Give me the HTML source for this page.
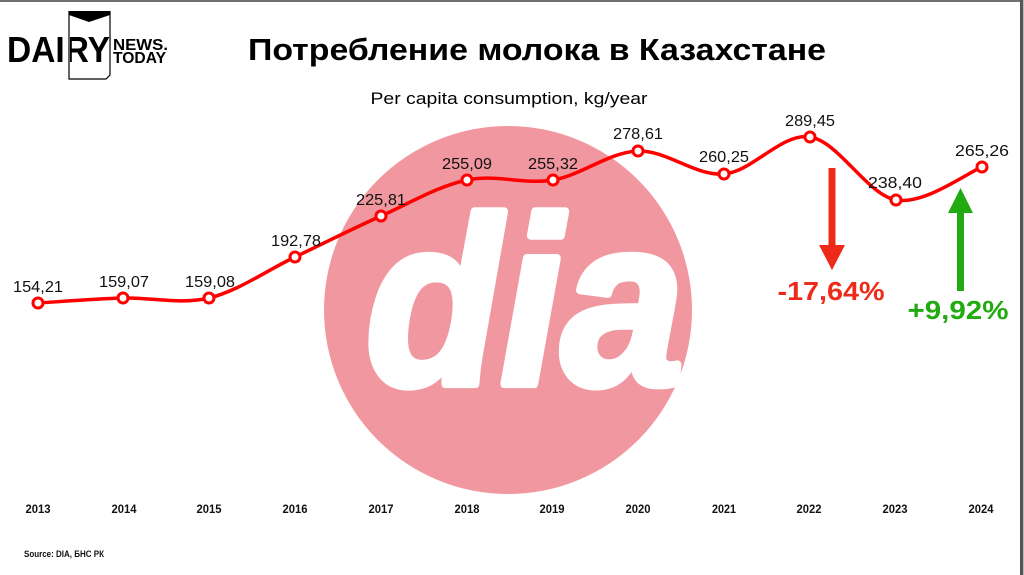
<!DOCTYPE html>
<html>
<head>
<meta charset="utf-8">
<style>
  html, body { margin: 0; padding: 0; background: #fff; }
  body { width: 1024px; height: 575px; overflow: hidden; }
  svg { display: block; }
  text { font-family: "Liberation Sans", "DejaVu Sans", "Noto Sans CJK SC", sans-serif; }
</style>
</head>
<body>
<svg width="1024" height="575" viewBox="0 0 1024 575" xmlns="http://www.w3.org/2000/svg">
  <rect x="0" y="0" width="1024" height="575" fill="#ffffff"/>
  <!-- borders -->
  <rect x="0" y="0" width="1024" height="2" fill="#707070"/>
  <rect x="1020" y="0" width="3" height="575" fill="#555555"/>
  <rect x="1023" y="0" width="1" height="575" fill="#bbbbbb"/>

  <!-- pink watermark circle -->
  <circle cx="508" cy="310" r="184" fill="#f1979f"/>
  <g transform="translate(366,384) scale(1,0.93)">
    <text x="0" y="0" font-size="256" font-weight="bold" font-style="italic" fill="#ffffff" stroke="#ffffff" stroke-width="9" stroke-linejoin="round" textLength="318" lengthAdjust="spacingAndGlyphs">dia</text>
  </g>

  <!-- logo -->
  <text x="7" y="62" font-size="36" font-weight="bold" fill="#000" textLength="103" lengthAdjust="spacingAndGlyphs">DAIRY</text>
  <rect x="67" y="15" width="3" height="64" fill="#ffffff"/>
  <polyline points="69,11 69,79 106,79 110,75 110,11" fill="none" stroke="#000" stroke-width="1.2"/>
  <polygon points="69,11 110,11 110,15 89,22 69,15" fill="#000"/>
  <text x="113" y="50" font-size="16" font-weight="bold" fill="#000" textLength="55" lengthAdjust="spacingAndGlyphs">NEWS.</text>
  <text x="113" y="63" font-size="16" font-weight="bold" fill="#000" textLength="53" lengthAdjust="spacingAndGlyphs">TODAY</text>

  <!-- title -->
  <text x="537" y="60" font-size="31" font-weight="bold" fill="#000" text-anchor="middle" textLength="578" lengthAdjust="spacingAndGlyphs">Потребление молока в Казахстане</text>
  <text x="509" y="104" font-size="17" fill="#000" text-anchor="middle" textLength="277" lengthAdjust="spacingAndGlyphs">Per capita consumption, kg/year</text>

  <!-- line -->
  <path d="M38,303 C52.2,302.2 94.5,298.8 123,298 C151.5,297.2 180.3,304.8 209,298 C237.7,291.2 266.3,270.7 295,257 C323.7,243.3 352.3,228.8 381,216 C409.7,203.2 438.3,186 467,180 C495.7,174 524.5,184.8 553,180 C581.5,175.2 609.5,152 638,151 C666.5,150 695.3,176.3 724,174 C752.7,171.7 781.3,132.7 810,137 C838.7,141.3 867.3,195 896,200 C924.7,205 967.7,172.5 982,167"
        fill="none" stroke="#ff0000" stroke-width="3.5" stroke-linejoin="round" stroke-linecap="round"/>

  <!-- markers -->
  <g fill="#ffffff" stroke="#ff0000" stroke-width="3">
    <circle cx="38" cy="303" r="5"/>
    <circle cx="123" cy="298" r="5"/>
    <circle cx="209" cy="298" r="5"/>
    <circle cx="295" cy="257" r="5"/>
    <circle cx="381" cy="216" r="5"/>
    <circle cx="467" cy="180" r="5"/>
    <circle cx="553" cy="180" r="5"/>
    <circle cx="638" cy="151" r="5"/>
    <circle cx="724" cy="174" r="5"/>
    <circle cx="810" cy="137" r="5"/>
    <circle cx="896" cy="200" r="5"/>
    <circle cx="982" cy="167" r="5"/>
  </g>

  <!-- data labels -->
  <g font-size="16" fill="#111" text-anchor="middle">
    <text x="38" y="292" textLength="50" lengthAdjust="spacingAndGlyphs">154,21</text>
    <text x="124" y="287" textLength="50" lengthAdjust="spacingAndGlyphs">159,07</text>
    <text x="210" y="287" textLength="50" lengthAdjust="spacingAndGlyphs">159,08</text>
    <text x="296" y="246" textLength="50" lengthAdjust="spacingAndGlyphs">192,78</text>
    <text x="381" y="205" textLength="50" lengthAdjust="spacingAndGlyphs">225,81</text>
    <text x="467" y="169" textLength="50" lengthAdjust="spacingAndGlyphs">255,09</text>
    <text x="553" y="169" textLength="50" lengthAdjust="spacingAndGlyphs">255,32</text>
    <text x="638" y="139" textLength="50" lengthAdjust="spacingAndGlyphs">278,61</text>
    <text x="724" y="162" textLength="50" lengthAdjust="spacingAndGlyphs">260,25</text>
    <text x="810" y="126" textLength="50" lengthAdjust="spacingAndGlyphs">289,45</text>
    <text x="895" y="188" textLength="54" lengthAdjust="spacingAndGlyphs">238,40</text>
    <text x="982" y="156" textLength="54" lengthAdjust="spacingAndGlyphs">265,26</text>
  </g>

  <!-- red arrow -->
  <rect x="828.5" y="168" width="7" height="78" fill="#ee2b1b"/>
  <polygon points="819,245 845,245 832,270" fill="#ee2b1b"/>
  <text x="831" y="300" font-size="26" font-weight="bold" fill="#ee2b1b" text-anchor="middle" textLength="107" lengthAdjust="spacingAndGlyphs">-17,64%</text>

  <!-- green arrow -->
  <rect x="957" y="212" width="7" height="79" fill="#22ab10"/>
  <polygon points="948,213 973,213 960.5,188" fill="#22ab10"/>
  <text x="958" y="319" font-size="26" font-weight="bold" fill="#22ab10" text-anchor="middle" textLength="101" lengthAdjust="spacingAndGlyphs">+9,92%</text>

  <!-- x axis years -->
  <g font-size="12" font-weight="bold" fill="#111" text-anchor="middle">
    <text x="38" y="513" textLength="25" lengthAdjust="spacingAndGlyphs">2013</text>
    <text x="124" y="513" textLength="25" lengthAdjust="spacingAndGlyphs">2014</text>
    <text x="209" y="513" textLength="25" lengthAdjust="spacingAndGlyphs">2015</text>
    <text x="295" y="513" textLength="25" lengthAdjust="spacingAndGlyphs">2016</text>
    <text x="381" y="513" textLength="25" lengthAdjust="spacingAndGlyphs">2017</text>
    <text x="467" y="513" textLength="25" lengthAdjust="spacingAndGlyphs">2018</text>
    <text x="552" y="513" textLength="25" lengthAdjust="spacingAndGlyphs">2019</text>
    <text x="638" y="513" textLength="25" lengthAdjust="spacingAndGlyphs">2020</text>
    <text x="724" y="513" textLength="24" lengthAdjust="spacingAndGlyphs">2021</text>
    <text x="809" y="513" textLength="25" lengthAdjust="spacingAndGlyphs">2022</text>
    <text x="895" y="513" textLength="25" lengthAdjust="spacingAndGlyphs">2023</text>
    <text x="981" y="513" textLength="25" lengthAdjust="spacingAndGlyphs">2024</text>
  </g>

  <!-- source -->
  <text x="24" y="557" font-size="9" font-weight="bold" fill="#111" textLength="80" lengthAdjust="spacingAndGlyphs">Source: DIA, БНС РК</text>
</svg>
</body>
</html>
